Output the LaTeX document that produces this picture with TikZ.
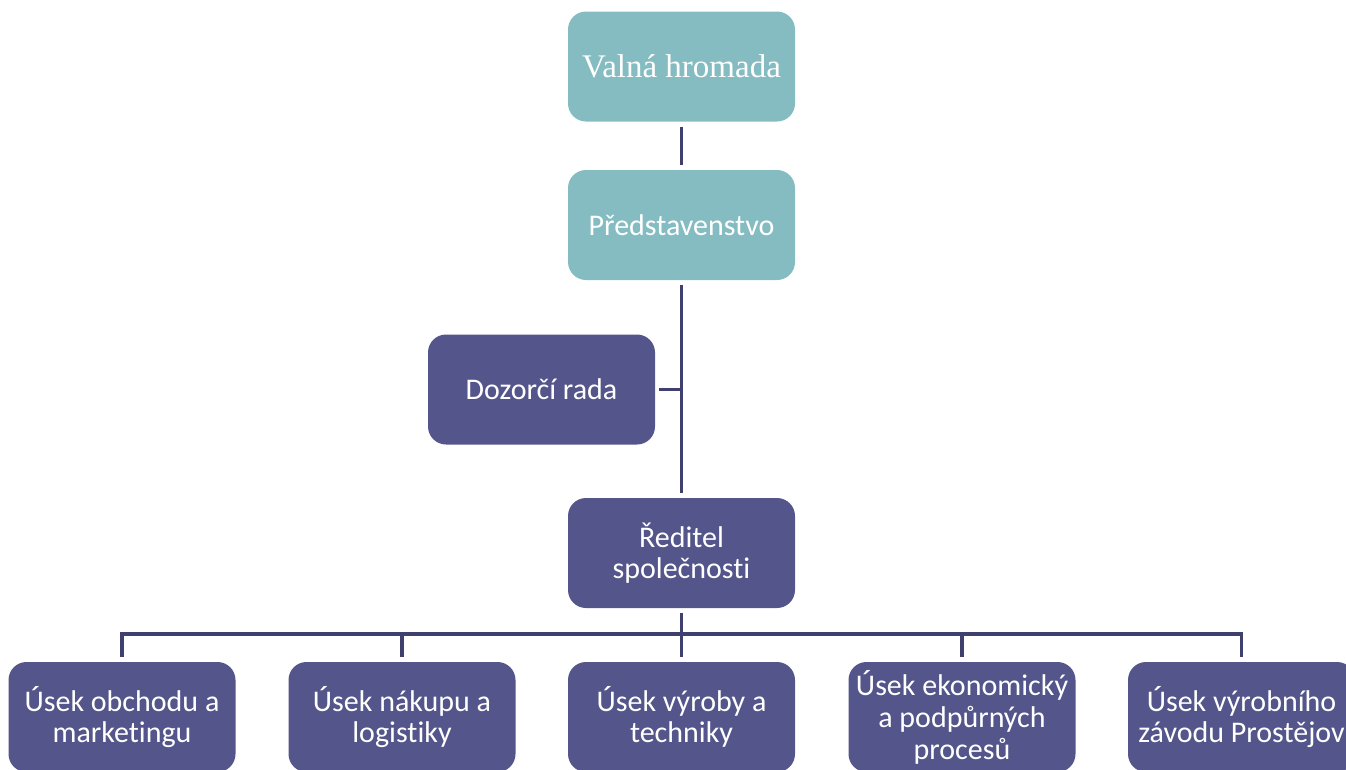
\documentclass[tikz,border=0pt]{standalone}
\usepackage{fontspec}
\setmainfont[Ligatures=NoCommon]{Carlito}
\newfontfamily\titleserif{Liberation Serif}
\definecolor{tealbox}{RGB}{132,188,193}
\definecolor{purplebox}{RGB}{84,85,138}
\definecolor{connclr}{RGB}{64,64,110}
\tikzset{
  orgbox/.style={rounded corners=18pt, minimum width=227pt, minimum height=110pt,
    inner sep=2pt, align=center, text=white, font=\fontsize{30}{31}\selectfont},
  topbox/.style={orgbox, fill=tealbox},
  lowbox/.style={orgbox, fill=purplebox},
  conn/.style={draw=connclr, line width=3.5pt}
}
\begin{document}
\begin{tikzpicture}[x=1pt,y=-1pt]
\useasboundingbox (0,0) rectangle (1346,769);
\clip (0,0) rectangle (1346,769);
\node[topbox, font=\titleserif\fontsize{33}{36}\selectfont] (vh) at (681.5,66.5) {Valná hromada};
\node[topbox] (pr) at (681.5,225) {Představenstvo};
\node[lowbox] (dr) at (541.5,389.5) {Dozorčí rada};
\node[lowbox] (re) at (681.5,553) {Ředitel\\společnosti};
\node[lowbox] (c1) at (122,717) {Úsek obchodu a\\marketingu};
\node[lowbox] (c2) at (402,717) {Úsek nákupu a\\logistiky};
\node[lowbox] (c3) at (681.5,717) {Úsek výroby a\\techniky};
\node[lowbox] (c4) at (962,717) {};
\node[text=white, align=center, font=\fontsize{30}{32}\selectfont] (c4t) at (962,717) {Úsek ekonomický\\a podpůrných\\procesů};
\node[lowbox] (c5) at (1241.5,717) {Úsek výrobního\\závodu Prostějov};
\coordinate (bus) at (681.5,634);
\draw[conn, shorten <=5pt, shorten >=5pt] (vh.south) -- (pr.north);
\draw[conn, shorten <=5pt, shorten >=5pt] (pr.south) -- (re.north);
\draw[conn, shorten <=4pt] (dr.east) -- (dr.east -| pr.south);
\draw[conn, shorten <=5pt] (re.south) -- (bus);
\draw[conn, shorten <=5pt, shorten >=5pt, line join=miter] (c1.north) -- (c1.north |- bus) -- (c5.north |- bus) -- (c5.north);
\draw[conn, shorten >=5pt] (c2.north |- bus) -- (c2.north);
\draw[conn, shorten >=5pt] (c3.north |- bus) -- (c3.north);
\draw[conn, shorten >=5pt] (c4.north |- bus) -- (c4.north);
\end{tikzpicture}
\end{document}
